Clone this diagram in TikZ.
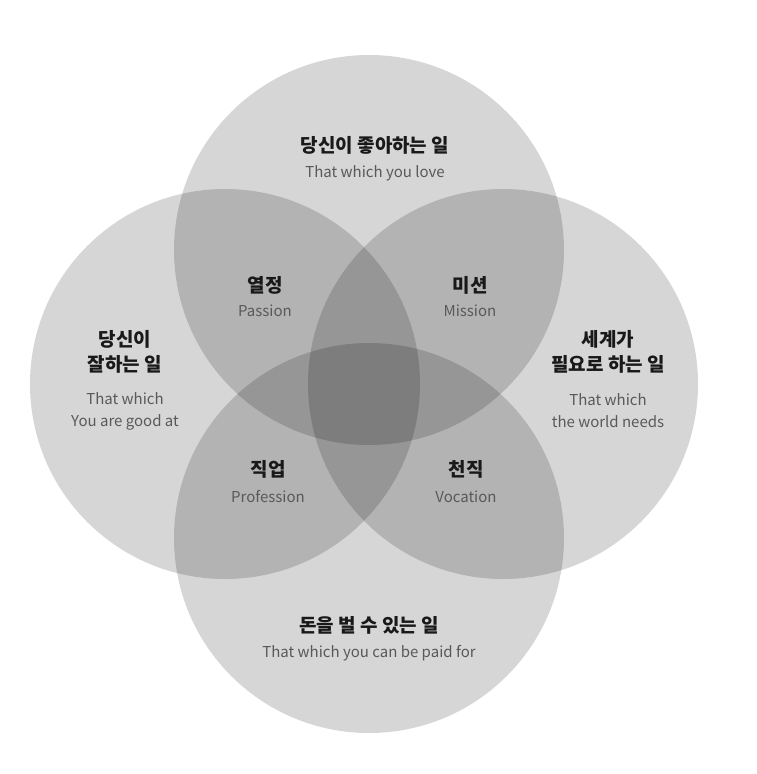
\documentclass[tikz,border=0pt]{standalone}
\usepackage{fontspec}
\setmainfont{Noto Sans CJK KR}
\newfontfamily\krbold{Noto Sans CJK KR Bold}
\begin{document}
\begin{tikzpicture}
    [x=1pt,y=-1pt,
      ring/.style={circle,minimum size=390pt,inner sep=0pt,fill=black,fill opacity=.16},
      kr/.style={font=\bfseries\fontsize{19}{25}\selectfont,align=center,text=black!90},
      en/.style={font=\fontsize{15}{22}\selectfont,align=center,text=black!65}]

    \useasboundingbox[fill=white] (0,0) rectangle (756,774);

    % four circles
    \node[ring] (love) at (369,250) {};
    \node[ring] (good) at (225,384) {};
    \node[ring] (need) at (503,384) {};
    \node[ring] (paid) at (369,538) {};

    % outer labels
    \node[kr] (lovek) at (375,145) {당신이 좋아하는 일};
    \node[en] (lovee) at (375,173) {That which you love};
    \node[kr] (goodk) at (125,352) {당신이\\잘하는 일};
    \node[en] (goode) at (125,411) {That which\\You are good at};
    \node[kr] (needk) at (608,352) {세계가\\필요로 하는 일};
    \node[en] (neede) at (608,411) {That which\\the world needs};
    \node[kr] (paidk) at (369,625) {돈을 벌 수 있는 일};
    \node[en] (paide) at (369,653) {That which you can be paid for};

    % overlaps
    \node[kr] (passk) at (265,285) {열정};
    \node[en] (passe) at (265,311) {Passion};
    \node[kr] (missk) at (470,285) {미션};
    \node[en] (misse) at (470,311) {Mission};
    \node[kr] (profk) at (268,469) {직업};
    \node[en] (profe) at (268,497) {Profession};
    \node[kr] (vock) at (466,469) {천직};
    \node[en] (voce) at (466,497) {Vocation};

\end{tikzpicture}
\end{document}
